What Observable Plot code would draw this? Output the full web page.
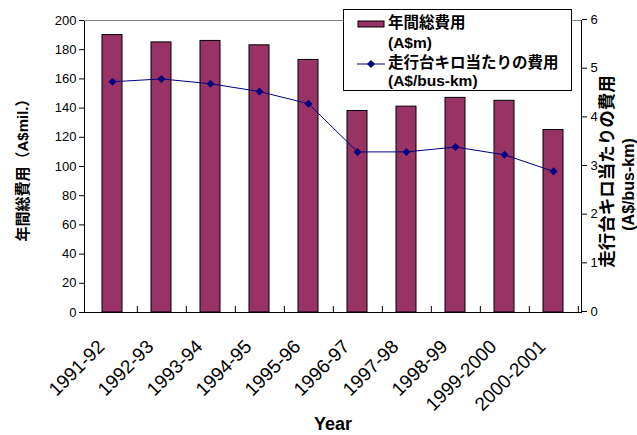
<!DOCTYPE html>
<html>
<head>
<meta charset="utf-8">
<script src="https://cdn.jsdelivr.net/npm/d3@7"></script>
<script src="https://cdn.jsdelivr.net/npm/@observablehq/plot@0.6"></script>
<style>
  html, body { margin: 0; padding: 0; background: #fff; }
  #wrap { position: relative; width: 637px; height: 435px; font-family: "Liberation Sans", Arial, "Noto Sans CJK JP", sans-serif; }
  #legend { position: absolute; left: 343px; top: 9px; width: 229px; height: 82px; border: 1px solid #000; background: #fff; box-sizing: border-box; }
  #legend .t { position: absolute; left: 44px; font-weight: bold; font-size: 15.5px; line-height: 16px; white-space: nowrap; color: #000; }
  #legend svg { position: absolute; left: 0; top: 0; }
</style>
</head>
<body>
<div id="wrap">
  <div id="chart"></div>
  <div id="legend"></div>
</div>
<script>
const categories = ["1991-92","1992-93","1993-94","1994-95","1995-96","1996-97","1997-98","1998-99","1999-2000","2000-2001"];
const totalCost = [190, 185, 186, 183, 173, 138, 141, 147, 145, 125];
const costPerKm = [4.74, 4.80, 4.70, 4.54, 4.29, 3.30, 3.30, 3.40, 3.24, 2.90];
const leftTicks = [0, 20, 40, 60, 80, 100, 120, 140, 160, 180, 200];
const rightTicks = [0, 1, 2, 3, 4, 5, 6];
const seriesNames = ["年間総費用", "(A$m)", "走行台キロ当たりの費用", "(A$/bus-km)"];
const leftTitle = "年間総費用（A$mil.）";
const rightTitle1 = "走行台キロ当たりの費用";
const rightTitle2 = "(A$/bus-km)";
const xTitle = "Year";

const barColor = "#993366";
const lineColor = "#000080";

const W = 637, H = 435, ML = 84, MR = 56, MT = 20, MB = 123;
const leftMax = 200, rightMax = 6;
const k = leftMax / rightMax;
const step = (W - ML - MR) / categories.length;

const data = categories.map((c, i) => ({year: c, total: totalCost[i], perKm: costPerKm[i]}));

const diamond = {
  draw(ctx, size) {
    const r = Math.sqrt(size / 2);
    ctx.moveTo(0, -r); ctx.lineTo(r, 0); ctx.lineTo(0, r); ctx.lineTo(-r, 0); ctx.closePath();
  }
};

const chart = Plot.plot({
  width: W, height: H,
  marginLeft: ML, marginRight: MR, marginTop: MT, marginBottom: MB,
  style: {fontFamily: '"Liberation Sans", Arial, "Noto Sans CJK JP", sans-serif', background: "#fff", color: "#000"},
  x: {type: "band", domain: categories, paddingInner: 0.6, paddingOuter: 0.3, axis: null},
  y: {domain: [0, leftMax], axis: null},
  marks: [
    Plot.barY(data, {x: "year", y: "total", fill: barColor, stroke: "#000", strokeWidth: 1}),
    Plot.frame({stroke: "#000"}),
    Plot.ruleY([leftMax], {stroke: "#808080"}),
    Plot.ruleX(categories, {x: d => d, dx: step / 2, insetTop: (H - MT - MB) - 6, stroke: "#000"}),
    Plot.line(data, {x: "year", y: d => d.perKm * k, stroke: lineColor, strokeWidth: 1}),
    Plot.dot(data, {x: "year", y: d => d.perKm * k, symbol: diamond, r: 3.2, fill: lineColor, stroke: "none"}),
    Plot.axisY(leftTicks, {anchor: "left", tickSize: 5, tickPadding: 3, fontSize: 13, label: null}),
    Plot.axisY(rightTicks.map(v => v * k), {anchor: "right", tickSize: 5, tickPadding: 4, fontSize: 13, label: null, tickFormat: v => String(Math.round(v / k)), dy: -1}),
    Plot.text(categories, {x: d => d, frameAnchor: "bottom", rotate: -45, textAnchor: "end", lineAnchor: "middle", dx: -11, dy: 31, fontSize: 19}),
    Plot.text([xTitle], {frameAnchor: "bottom", textAnchor: "middle", lineAnchor: "middle", dy: 112, fontSize: 18, fontWeight: "bold"}),
    Plot.text([leftTitle], {frameAnchor: "left", textAnchor: "middle", lineAnchor: "middle", dx: -61, rotate: -90, fontSize: 15, fontWeight: "bold"}),
    Plot.text([rightTitle1], {frameAnchor: "right", textAnchor: "middle", lineAnchor: "middle", dx: 26, dy: 5, rotate: -90, fontSize: 17.5, fontWeight: "bold"}),
    Plot.text([rightTitle2], {frameAnchor: "right", textAnchor: "middle", lineAnchor: "middle", dx: 47, dy: 18, rotate: -90, fontSize: 16, fontWeight: "bold"})
  ]
});
document.getElementById("chart").appendChild(chart);

// legend
const lg = document.getElementById("legend");
const sv = d3.select(lg).append("svg").attr("width", 229).attr("height", 82);
sv.append("rect").attr("x", 14).attr("y", 11).attr("width", 26).attr("height", 6)
  .attr("fill", barColor).attr("stroke", "#000").attr("stroke-width", 1);
sv.append("line").attr("x1", 13).attr("x2", 41).attr("y1", 54).attr("y2", 54)
  .attr("stroke", lineColor).attr("stroke-width", 1);
sv.append("path").attr("d", "M27,50L31,54L27,58L23,54Z").attr("fill", lineColor);
const tops = [5, 25, 45, 63];
seriesNames.forEach((s, i) => {
  const d = document.createElement("div");
  d.className = "t";
  d.style.top = tops[i] + "px";
  d.textContent = s;
  lg.appendChild(d);
});
</script>
</body>
</html>
